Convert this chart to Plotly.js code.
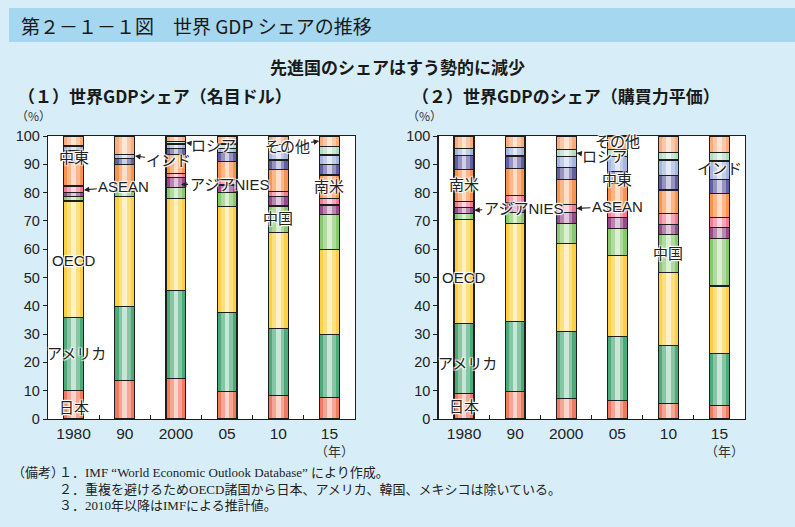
<!DOCTYPE html>
<html>
<head>
<meta charset="utf-8">
<script src="https://cdn.plot.ly/plotly-3.0.1.min.js"></script>
<style>html,body{margin:0;padding:0;background:#d7eef9;}#chart{width:795px;height:527px;}</style>
</head>
<body>
<div id="chart"></div>
<script>
// ---------------- data ----------------
const years = ['1980', '90', '2000', '05', '10', '15'];
const seriesNames = ['日本', 'アメリカ', 'OECD', '中国', 'アジアNIES', 'ASEAN', '南米', '中東', 'インド', 'ロシア', 'その他'];

// (1) nominal USD share (%)
const nomJapan  = [10.0, 13.7, 14.4, 9.8, 8.4, 7.7];
const nomUSA    = [26.0, 26.1, 31.1, 27.9, 23.6, 22.2];
const nomOECD   = [41.0, 38.8, 32.5, 37.3, 33.8, 30.1];
const nomChina  = [1.7, 1.7, 3.7, 5.0, 9.5, 12.3];
const nomNIES   = [1.4, 0.0, 3.7, 2.7, 3.3, 3.3];
const nomASEAN  = [2.2, 0.0, 1.4, 1.8, 1.7, 2.4];
const nomSAm    = [8.2, 9.5, 6.8, 6.4, 7.9, 8.2];
const nomMEast  = [4.3, 2.3, 2.0, 3.2, 3.3, 3.8];
const nomIndia  = [1.7, 1.5, 1.6, 1.5, 3.0, 3.3];
const nomRussia = [0.0, 0.0, 0.8, 1.6, 2.5, 2.9];
const nomOther  = [3.5, 6.4, 2.0, 2.8, 3.0, 3.8];

// (2) PPP share (%)
const pppJapan  = [9.1, 9.8, 7.3, 6.6, 5.5, 4.8];
const pppUSA    = [24.7, 24.7, 23.7, 22.6, 20.4, 18.4];
const pppOECD   = [36.8, 34.7, 31.1, 28.5, 25.9, 23.8];
const pppChina  = [2.1, 3.7, 7.1, 9.7, 13.5, 16.9];
const pppNIES   = [2.1, 3.5, 3.8, 3.7, 3.5, 3.8];
const pppASEAN  = [2.0, 2.6, 2.9, 3.0, 3.9, 3.6];
const pppSAm    = [11.4, 9.6, 8.8, 9.1, 8.2, 8.5];
const pppMEast  = [4.8, 4.3, 4.1, 4.2, 5.1, 4.9];
const pppIndia  = [2.7, 3.1, 3.9, 5.3, 5.5, 6.5];
const pppRussia = [0.0, 0.0, 2.6, 2.6, 2.6, 3.0];
const pppOther  = [4.3, 4.0, 4.7, 4.7, 5.9, 5.8];

const nominalSeries = [nomJapan, nomUSA, nomOECD, nomChina, nomNIES, nomASEAN, nomSAm, nomMEast, nomIndia, nomRussia, nomOther];
const pppSeries = [pppJapan, pppUSA, pppOECD, pppChina, pppNIES, pppASEAN, pppSAm, pppMEast, pppIndia, pppRussia, pppOther];

// ---------------- styles ----------------
const colors = ['#f07a60', '#4caa78', '#fdcf45', '#88c96d', '#9a4a8c', '#f27b93', '#f9944f', '#625fa3', '#a5b6df', '#b2dcbf', '#fbac7c'];
const BARW = 0.39;
const W = 795, H = 527;
const px = x => x / W;
const py = y => 1 - y / H;
const JP = 'Noto Sans CJK JP, sans-serif';
const LAT = 'Liberation Sans, Noto Sans CJK JP, sans-serif';
const SERIF = 'Liberation Serif, Noto Sans CJK JP, serif';
const HALO = '-1px -1px 1px #fff, 1px -1px 1px #fff, -1px 1px 1px #fff, 1px 1px 1px #fff';

const traces = [];
// layers: base colour, wide soft highlight, narrow highlight, outline
function addLayers(series, axes) {
  const [base, hl1, hl2, outl] = axes;
  series.forEach((vals, i) => {
    traces.push({type: 'bar', x: years, y: vals, name: seriesNames[i], xaxis: base[0], yaxis: base[1],
      width: BARW, marker: {color: colors[i], line: {width: 0}}, hoverinfo: 'skip', showlegend: false});
  });
  series.forEach((vals, i) => {
    traces.push({type: 'bar', x: years, y: vals, xaxis: hl1[0], yaxis: hl1[1],
      width: 0.24, marker: {color: 'rgba(255,255,255,0.33)', line: {width: 0}}, hoverinfo: 'skip', showlegend: false});
  });
  series.forEach((vals, i) => {
    traces.push({type: 'bar', x: years, y: vals, xaxis: hl2[0], yaxis: hl2[1],
      width: 0.09, marker: {color: 'rgba(255,255,255,0.55)', line: {width: 0}}, hoverinfo: 'skip', showlegend: false});
  });
  series.forEach((vals, i) => {
    traces.push({type: 'bar', x: years, y: vals, xaxis: outl[0], yaxis: outl[1],
      width: BARW, marker: {color: 'rgba(0,0,0,0)', line: {width: 1.2, color: '#1e1e1e'}}, hoverinfo: 'skip', showlegend: false});
  });
}
addLayers(nominalSeries, [['x', 'y'], ['x3', 'y3'], ['x4', 'y4'], ['x5', 'y5']]);
addLayers(pppSeries, [['x2', 'y2'], ['x6', 'y6'], ['x7', 'y7'], ['x8', 'y8']]);

const yDom = [py(419), py(136)];
const leftDom = [px(48), px(355)];
const rightDom = [px(438.5), px(745)];

function baseX(dom, anchor) {
  return {domain: dom, anchor: anchor, type: 'category', range: [-0.5, 5.5], showline: true, mirror: true,
    linecolor: '#1e1e1e', linewidth: 1.2, ticks: 'inside', tickson: 'boundaries', ticklen: 4, tickcolor: '#1e1e1e',
    tickfont: {family: LAT, size: 15.5, color: '#222'}, showgrid: false, fixedrange: true};
}
function baseY(anchor) {
  return {domain: yDom, anchor: anchor, range: [0, 100], dtick: 10, ticks: 'outside', ticklen: 4, tickcolor: '#1e1e1e',
    showline: true, mirror: true, linecolor: '#1e1e1e', linewidth: 1.2, showgrid: false, zeroline: false,
    tickfont: {family: LAT, size: 14.5, color: '#222'}, fixedrange: true};
}
function ovX(over, dom, anchor) {
  return {overlaying: over, domain: dom, anchor: anchor, type: 'category', range: [-0.5, 5.5], visible: false, fixedrange: true};
}
function ovY(over, anchor) {
  return {overlaying: over, domain: yDom, anchor: anchor, range: [0, 100], visible: false, fixedrange: true};
}

const layout = {
  width: W, height: H,
  margin: {l: 0, r: 0, t: 0, b: 0},
  paper_bgcolor: '#d7eef9', plot_bgcolor: '#ffffff',
  barmode: 'stack',
  showlegend: false,
  xaxis: baseX(leftDom, 'y'), yaxis: baseY('x'),
  xaxis2: baseX(rightDom, 'y2'), yaxis2: baseY('x2'),
  xaxis3: ovX('x', leftDom, 'y3'), yaxis3: ovY('y', 'x3'),
  xaxis4: ovX('x', leftDom, 'y4'), yaxis4: ovY('y', 'x4'),
  xaxis5: ovX('x', leftDom, 'y5'), yaxis5: ovY('y', 'x5'),
  xaxis6: ovX('x2', rightDom, 'y6'), yaxis6: ovY('y2', 'x6'),
  xaxis7: ovX('x2', rightDom, 'y7'), yaxis7: ovY('y2', 'x7'),
  xaxis8: ovX('x2', rightDom, 'y8'), yaxis8: ovY('y2', 'x8'),
  shapes: [
    {type: 'rect', xref: 'paper', yref: 'paper', x0: px(9), x1: 1, y0: py(42), y1: py(8), fillcolor: '#a6d7f0', line: {width: 0}, layer: 'below'}
  ],
  annotations: []
};

const A = layout.annotations;
function ptxt(text, x, y, opts) {
  A.push(Object.assign({text: text, xref: 'paper', yref: 'paper', x: px(x), y: py(y), showarrow: false,
    xanchor: 'left', yanchor: 'middle', font: {family: JP, size: 13, color: '#222'}}, opts || {}));
}
// titles
ptxt('第２－１－１図　世界 GDP シェアの推移', 19, 25, {font: {family: JP, size: 19, color: '#1a1a1a'}});
ptxt('<b>先進国のシェアはすう勢的に減少</b>', 397, 66, {xanchor: 'center', font: {family: JP, size: 17, color: '#1a1a1a'}});
ptxt('<b>（１）世界GDPシェア（名目ドル）</b>', 16, 95, {font: {family: JP, size: 17, color: '#1a1a1a'}});
ptxt('<b>（２）世界GDPのシェア（購買力平価）</b>', 410, 95, {font: {family: JP, size: 17, color: '#1a1a1a'}});
ptxt('（%）', 14, 116, {font: {family: JP, size: 12, color: '#333'}});
ptxt('（%）', 405, 116, {font: {family: JP, size: 12, color: '#333'}});
ptxt('（年）', 356, 450, {xanchor: 'right', font: {family: JP, size: 13, color: '#333'}});
ptxt('（年）', 746, 450, {xanchor: 'right', font: {family: JP, size: 13, color: '#333'}});
// notes
ptxt('（備考）', 10, 472, {font: {family: SERIF, size: 13, color: '#222'}});
ptxt('１．IMF “World Economic Outlook Database” により作成。', 57, 472, {font: {family: SERIF, size: 13, color: '#222'}});
ptxt('２．重複を避けるためOECD諸国から日本、アメリカ、韓国、メキシコは除いている。', 57, 489, {font: {family: SERIF, size: 13, color: '#222'}});
ptxt('３．2010年以降はIMFによる推計値。', 57, 505, {font: {family: SERIF, size: 13, color: '#222'}});

// in-chart labels
function lab(text, xa, ya, xi, yv, opts) {
  A.push(Object.assign({text: text, xref: xa, yref: ya, x: xi, y: yv, showarrow: false,
    font: {family: LAT, size: 15, color: '#222', shadow: HALO}}, opts || {}));
}
function arr(text, xa, ya, xi, yv, ax, ay) {
  A.push({text: text, xref: xa, yref: ya, x: xi, y: yv, showarrow: true, ax: ax, ay: ay,
    arrowhead: 2, arrowsize: 1, arrowwidth: 1.1, arrowcolor: '#222', standoff: 0,
    font: {family: LAT, size: 15, color: '#222', shadow: HALO}});
}
// left chart
lab('中東', 'x', 'y', 0, 92.5);
arr('ASEAN', 'x', 'y', 0.2, 80.9, 40, -4);
arr('インド', 'x', 'y', 1.2, 92.9, 34, 4);
arr('ロシア', 'x', 'y', 2.2, 97.6, 27, 3);
arr('アジアNIES', 'x', 'y', 2.1, 82.9, 48, 0);
arr('その他', 'x', 'y', 4.8, 98.2, -32, 5);
lab('南米', 'x', 'y', 5, 82);
lab('中国', 'x', 'y', 4, 70.7);
lab('OECD', 'x', 'y', 0, 56);
lab('アメリカ', 'x', 'y', 0, 23, {xshift: 3});
lab('日本', 'x', 'y', 0, 4.2);
// right chart
lab('南米', 'x2', 'y2', 0, 82.7);
arr('アジアNIES', 'x2', 'y2', 0.2, 73.8, 49, -2);
arr('ロシア', 'x2', 'y2', 2.2, 94.0, 28, 4);
lab('その他', 'x2', 'y2', 3, 98.2);
lab('中東', 'x2', 'y2', 3, 84.7);
arr('ASEAN', 'x2', 'y2', 2.2, 74.4, 41, -2);
lab('中国', 'x2', 'y2', 4, 58.6);
lab('インド', 'x2', 'y2', 5, 88.6);
lab('OECD', 'x2', 'y2', 0, 50);
lab('アメリカ', 'x2', 'y2', 0, 19.5, {xshift: 3});
lab('日本', 'x2', 'y2', 0, 4.3);

Plotly.newPlot('chart', traces, layout, {displayModeBar: false, staticPlot: true});
</script>
</body>
</html>
